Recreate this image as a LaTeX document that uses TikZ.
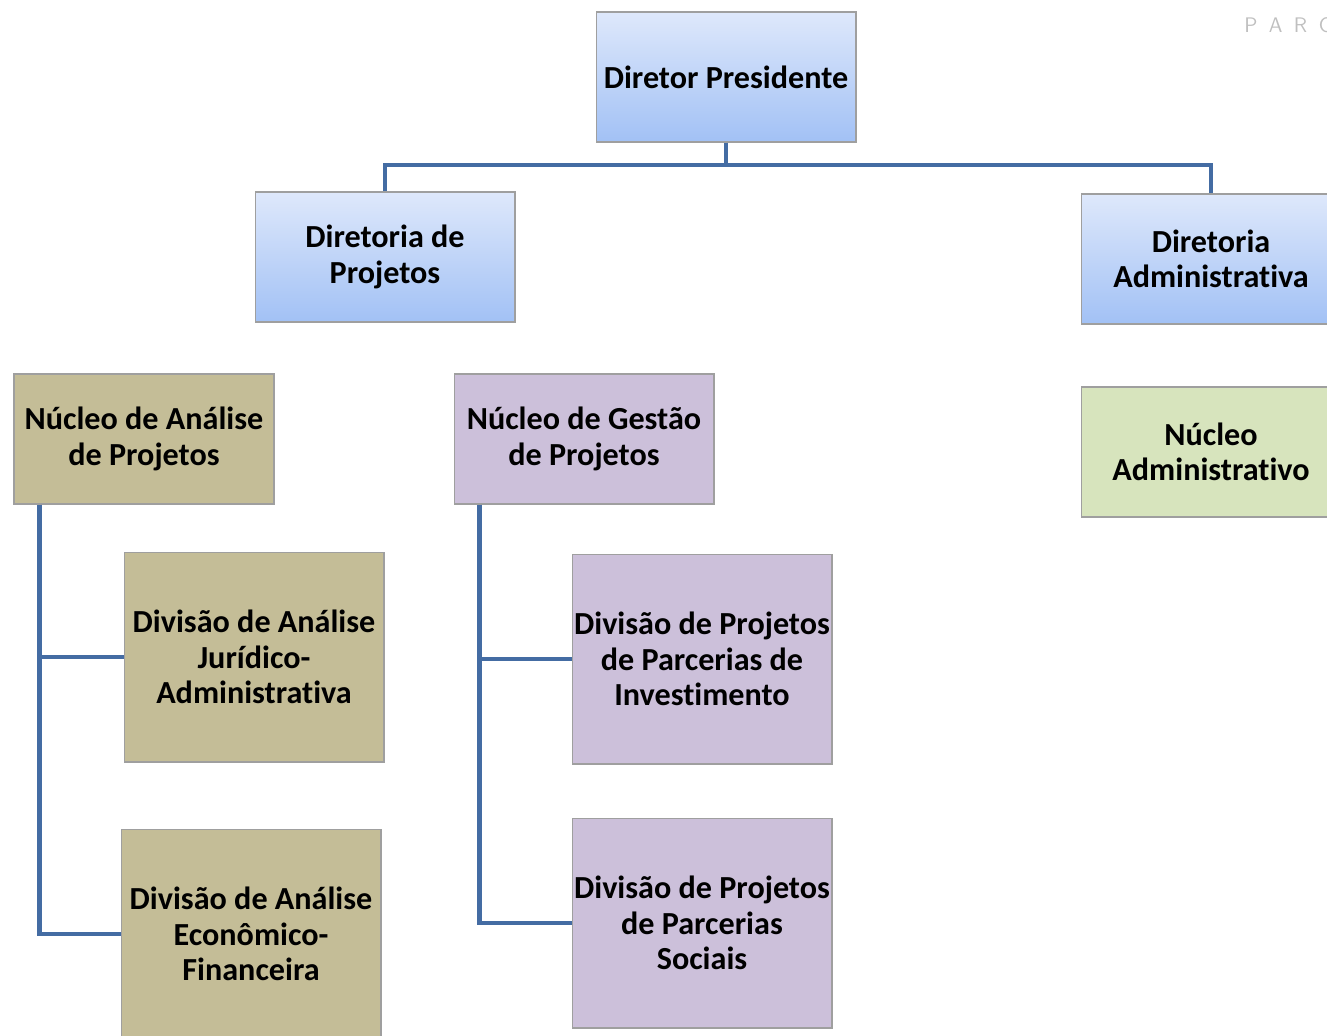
\documentclass[tikz,border=0pt]{standalone}
\usepackage{fontspec}
\setmainfont{Carlito}[RawFeature=-liga]
\usepackage{tikz}
\usetikzlibrary{positioning, calc}
\definecolor{linha}{RGB}{68,108,163}
\definecolor{azulclaro}{RGB}{222,232,251}
\definecolor{azulescuro}{RGB}{162,193,245}
\definecolor{bege}{RGB}{196,189,151}
\definecolor{lilas}{RGB}{204,192,218}
\definecolor{verdeclaro}{RGB}{215,228,189}
\tikzstyle{cargo} = [rectangle, minimum width=5.2cm, minimum height=2.6cm, text centered, align=center, draw=gray!75, line width=0.6pt, font=\fontsize{18.3}{20.2}\selectfont\bfseries, inner sep=0pt]
\tikzstyle{diretoria} = [cargo, top color=azulclaro, bottom color=azulescuro]
\tikzstyle{analise} = [cargo, fill=bege]
\tikzstyle{gestao} = [cargo, fill=lilas]
\tikzstyle{admin} = [cargo, fill=verdeclaro]
\tikzstyle{divisao} = [minimum height=4.2cm]
\tikzstyle{conn} = [line width=2.3pt, draw=linha]

\begin{document}
\begin{tikzpicture}[x=0.02cm, y=-0.02cm]
\useasboundingbox (0,0) rectangle (1327,1035);

% Topo
\node (pres) [diretoria] at (726,77) {Diretor Presidente};
\node (dirproj) [diretoria] at (385,257) {Diretoria de\\Projetos};
\node (diradm) [diretoria] at (1211,259) {Diretoria\\Administrativa};

% Nucleos
\node (nap) [analise] at (144,439) {Núcleo de Análise\\de Projetos};
\node (ngp) [gestao] at (584,439) {Núcleo de Gestão\\de Projetos};
\node (nadm) [admin] at (1211,452) {Núcleo\\Administrativo};

% Divisoes
\node (divjur) [analise, divisao] at (254,657) {Divisão de Análise\\Jurídico-\\Administrativa};
\node (diveco) [analise, divisao] at (251,934) {Divisão de Análise\\Econômico-\\Financeira};
\node (divinv) [gestao, divisao] at (702,659) {Divisão de Projetos\\de Parcerias de\\Investimento};
\node (divsoc) [gestao, divisao] at (702,923) {Divisão de Projetos\\de Parcerias\\Sociais};

% Marca
\node (marca) [text=gray!50, font=\sffamily\fontsize{12}{14}\selectfont, anchor=west, inner sep=0pt] at (1244,25) {P\hspace{6.5pt}A\hspace{6.5pt}R\hspace{6.5pt}C};

% Ligacoes
\coordinate (barra) at (726,165);
\draw [conn] (pres.south) -- (barra);
\draw [conn] (barra) -| (dirproj.north);
\draw [conn] (barra) -| (diradm.north);

\draw [conn] ([xshift=0.52cm]nap.south west) |- (divjur.west);
\draw [conn] ([xshift=0.52cm]nap.south west) |- (diveco.west);

\draw [conn] ([xshift=0.52cm]ngp.south west) |- (divinv.west);
\draw [conn] ([xshift=0.52cm]ngp.south west) |- (divsoc.west);

\end{tikzpicture}
\end{document}
